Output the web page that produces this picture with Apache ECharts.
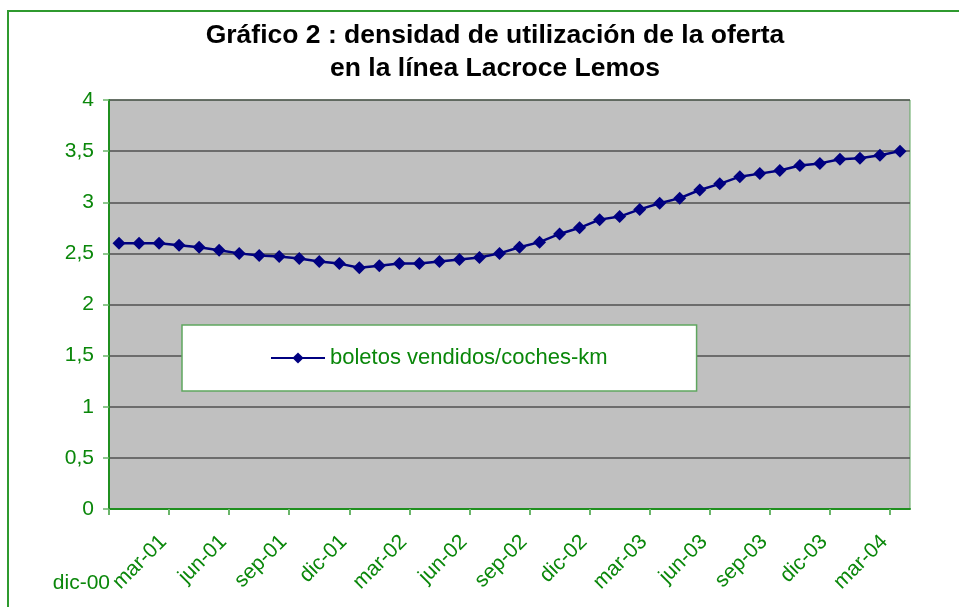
<!DOCTYPE html>
<html>
<head>
<meta charset="utf-8">
<script src="https://cdn.jsdelivr.net/npm/echarts@6/dist/echarts.min.js"></script>
<style>
  html, body { margin: 0; padding: 0; background: #fff; }
  #chart { width: 959px; height: 607px; }
</style>
</head>
<body>
<div id="chart"></div>
<script>
var months = ['dic-00',
    'ene-01', 'feb-01', 'mar-01', 'abr-01', 'may-01', 'jun-01', 'jul-01', 'ago-01', 'sep-01', 'oct-01', 'nov-01', 'dic-01',
    'ene-02', 'feb-02', 'mar-02', 'abr-02', 'may-02', 'jun-02', 'jul-02', 'ago-02', 'sep-02', 'oct-02', 'nov-02', 'dic-02',
    'ene-03', 'feb-03', 'mar-03', 'abr-03', 'may-03', 'jun-03', 'jul-03', 'ago-03', 'sep-03', 'oct-03', 'nov-03', 'dic-03',
    'ene-04', 'feb-04', 'mar-04'];
var densidad = [2.6, 2.6, 2.6, 2.58, 2.56, 2.53, 2.5, 2.48, 2.47, 2.45,
    2.42, 2.4, 2.36, 2.38, 2.4, 2.4, 2.42, 2.44, 2.46, 2.5,
    2.56, 2.61, 2.69, 2.75, 2.83, 2.86, 2.93, 2.99, 3.04, 3.12,
    3.18, 3.25, 3.28, 3.31, 3.36, 3.38, 3.42, 3.43, 3.46, 3.5];
var serieName = 'boletos vendidos/coches-km';

var green = '#0a870a';
var font = 'Liberation Sans, Arial, sans-serif';

var chart = echarts.init(document.getElementById('chart'));
chart.setOption({
    animation: false,
    textStyle: { fontFamily: font },
    title: {
        text: 'Gráfico 2 : densidad de utilización de la oferta\nen la línea Lacroce Lemos',
        left: 490,
        textAlign: 'center',
        top: 14,
        textStyle: { fontSize: 26.5, fontWeight: 'bold', color: '#000', lineHeight: 33, fontFamily: font }
    },
    graphic: [{
        type: 'rect',
        shape: { x: 8, y: 11, width: 1000, height: 700 },
        style: { fill: 'none', stroke: '#2f9a2f', lineWidth: 2 },
        z: 0
    }, {
        type: 'text',
        x: 110,
        y: 583,
        style: { text: months[0], fill: green, font: '21px ' + font, textAlign: 'right', textVerticalAlign: 'middle' }
    }],
    legend: {
        left: 182,
        top: 325,
        backgroundColor: '#fff',
        borderColor: '#5fa65f',
        borderWidth: 1.5,
        borderRadius: 0,
        padding: [22, 89, 22, 88],
        itemWidth: 54,
        itemHeight: 14,
        itemGap: 5,
        textStyle: { color: green, fontSize: 22, fontFamily: font },
        data: [serieName]
    },
    grid: {
        left: 109, top: 100, width: 801, height: 409,
        show: true,
        backgroundColor: '#c0c0c0',
        borderColor: '#5fa65f',
        borderWidth: 1
    },
    xAxis: [{
        type: 'category',
        data: months,
        boundaryGap: true,
        axisLine: { lineStyle: { color: '#1f8f1f', width: 2 } },
        axisTick: { show: false },
        axisLabel: { show: false },
        splitLine: { show: false }
    }, {
        type: 'value',
        position: 'bottom',
        min: 0,
        max: 40,
        interval: 3,
        axisLine: { show: false },
        axisTick: { show: true, length: 6, lineStyle: { color: '#6ab56a', width: 2 } },
        splitLine: { show: false },
        axisLabel: {
            rotate: 45,
            margin: 24,
            padding: [0, 8, 0, 0],
            showMaxLabel: false,
            color: green,
            fontSize: 21,
            fontFamily: font,
            formatter: function (v) { return v === 0 ? '' : (months[v] || ''); }
        }
    }],
    yAxis: {
        type: 'value',
        min: 0,
        max: 4,
        interval: 0.5,
        axisLine: { show: true, lineStyle: { color: '#1f8f1f', width: 2 } },
        axisTick: { show: true, length: 6, lineStyle: { color: '#6ab56a', width: 1.5 } },
        splitLine: { lineStyle: { color: '#505050', width: 1.5 } },
        axisLabel: {
            margin: 15,
            color: green,
            fontSize: 21,
            fontFamily: font,
            formatter: function (v) { return String(v).replace('.', ','); }
        }
    },
    series: [{
        name: serieName,
        type: 'line',
        xAxisIndex: 0,
        data: densidad,
        symbol: 'diamond',
        symbolSize: 13,
        lineStyle: { color: '#000080', width: 2.5 },
        itemStyle: { color: '#000080' }
    }]
});
</script>
</body>
</html>
